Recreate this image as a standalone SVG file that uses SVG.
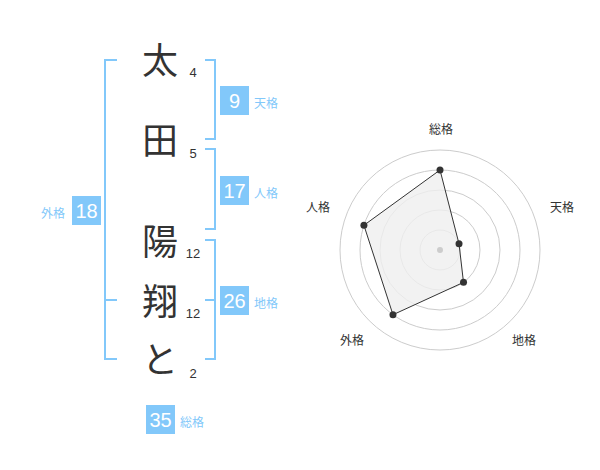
<svg xmlns="http://www.w3.org/2000/svg" width="600" height="470" viewBox="0 0 600 470">
<style>
.ch{font-family:"Noto Sans CJK JP","Noto Sans CJK SC",sans-serif;font-size:36px;fill:#333;text-anchor:middle}
.num{font-family:"Liberation Sans",Arial,sans-serif;font-size:13px;fill:#333;text-anchor:middle}
.br{fill:none;stroke:#82c8fa;stroke-width:2}
.box{fill:#82c8fa}
.bt{font-family:"Liberation Sans",Arial,sans-serif;font-size:20px;fill:#fff;text-anchor:middle}
.bl{font-family:"Noto Sans CJK JP","Noto Sans CJK SC",sans-serif;font-size:12px;fill:#82c8fa}
.ring{fill:none;stroke:#ccc;stroke-width:1}
.ax{font-family:"Noto Sans CJK JP","Noto Sans CJK SC",sans-serif;font-size:12px;fill:#333;text-anchor:middle}
.pt{fill:#333}
</style>
<rect width="600" height="470" fill="#fff"/>
<g id="name">
<text class="ch" x="160" y="74">太</text>
<text class="ch" x="160" y="154">田</text>
<text class="ch" x="160" y="255">陽</text>
<text class="ch" x="160" y="315">翔</text>
<text class="ch" x="160" y="373">と</text>
<text class="num" x="193" y="77">4</text>
<text class="num" x="193" y="158">5</text>
<text class="num" x="193" y="258">12</text>
<text class="num" x="193" y="318">12</text>
<text class="num" x="193" y="378">2</text>
</g>
<g id="connectors">
<path class="br" d="M117 60H105V359H117M105 300H117"/>
<path class="br" d="M205 60H215V139H205"/>
<path class="br" d="M205 149H215V229H205"/>
<path class="br" d="M205 240H215V359H205M205 300H215"/>
</g>
<g id="tenkaku">
<rect class="box" x="220" y="86" width="29" height="29"/>
<text class="bt" x="234.5" y="107.5">9</text>
<text class="bl" x="254" y="108">天格</text>
</g>
<g id="jinkaku">
<rect class="box" x="220" y="176" width="29" height="29"/>
<text class="bt" x="234.5" y="197.5">17</text>
<text class="bl" x="254" y="198">人格</text>
</g>
<g id="gaikaku">
<rect class="box" x="72" y="196" width="29" height="29"/>
<text class="bt" x="86.5" y="217.5">18</text>
<text class="bl" x="41" y="218">外格</text>
</g>
<g id="chikaku">
<rect class="box" x="220" y="286" width="29" height="29"/>
<text class="bt" x="234.5" y="307.5">26</text>
<text class="bl" x="254" y="308">地格</text>
</g>
<g id="soukaku">
<rect class="box" x="146" y="405" width="29" height="29"/>
<text class="bt" x="160.5" y="426.5">35</text>
<text class="bl" x="180" y="427">総格</text>
</g>
<g id="radar">
<circle class="ring" cx="440" cy="250" r="20"/>
<circle class="ring" cx="440" cy="250" r="40"/>
<circle class="ring" cx="440" cy="250" r="60"/>
<circle class="ring" cx="440" cy="250" r="80"/>
<circle class="ring" cx="440" cy="250" r="100"/>
<polygon points="440,170 459.02,243.82 463.51,282.36 392.98,314.72 363.92,225.28" fill="#efefef" fill-opacity="0.8" stroke="#333" stroke-width="1"/>
<circle cx="440" cy="250" r="3" fill="#ccc"/>
<circle class="pt" cx="440" cy="170" r="3.5"/>
<circle class="pt" cx="459.02" cy="243.82" r="3.5"/>
<circle class="pt" cx="463.51" cy="282.36" r="3.5"/>
<circle class="pt" cx="392.98" cy="314.72" r="3.5"/>
<circle class="pt" cx="363.92" cy="225.28" r="3.5"/>
<text class="ax" x="441" y="134">総格</text>
<text class="ax" x="562" y="212">天格</text>
<text class="ax" x="524" y="345">地格</text>
<text class="ax" x="352" y="345">外格</text>
<text class="ax" x="318" y="212">人格</text>
</g>
</svg>
